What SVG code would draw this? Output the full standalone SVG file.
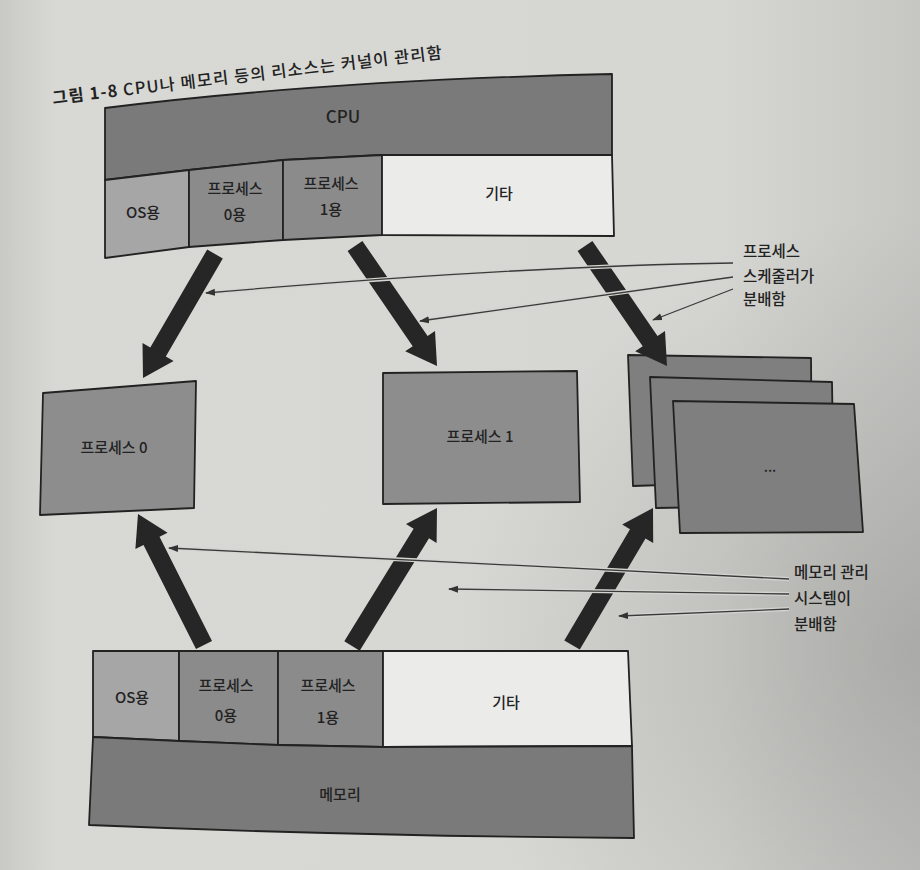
<svg xmlns="http://www.w3.org/2000/svg" width="920" height="870" viewBox="0 0 920 870">
<defs>
<linearGradient id="pageH" x1="0" y1="0" x2="1" y2="0">
<stop offset="0" stop-color="#c9c9c5"/>
<stop offset="0.06" stop-color="#d8d8d4"/>
<stop offset="0.78" stop-color="#d6d6d2"/>
<stop offset="1" stop-color="#c6c6c3"/>
</linearGradient>
<radialGradient id="shadow" cx="1" cy="0.75" r="0.5">
<stop offset="0" stop-color="#8e8e8c" stop-opacity="0.5"/>
<stop offset="1" stop-color="#8e8e8c" stop-opacity="0"/>
</radialGradient>
<marker id="tip" markerUnits="userSpaceOnUse" markerWidth="10" markerHeight="8" viewBox="0 0 10 8" refX="9" refY="4" orient="auto">
<path d="M0,0.5 L10,4 L0,7.5 z" fill="#333"/>
</marker>
<style>
.t{font-family:"Noto Sans CJK KR","Noto Sans",sans-serif;fill:#222;text-anchor:middle;font-weight:500}
.box{stroke:#222;stroke-width:1.8;stroke-linejoin:round}
.band{fill:#7a7a7a}
.os{fill:#a6a6a6}
.pc{fill:#8b8b8b}
.etc{fill:#ebebea}
.proc{fill:#8d8d8d}
.stk{fill:#7f7f7f}
.big{fill:#262626}
.halo{fill:none;stroke:#d4d4d0;stroke-width:4}
.thin{fill:none;stroke:#3a3a3a;stroke-width:1.3;marker-end:url(#tip)}
</style>
</defs>

<rect width="920" height="870" fill="url(#pageH)"/>
<rect width="920" height="870" fill="url(#shadow)"/>

<text class="t" x="53" y="104" transform="rotate(-6.7 53 104)" style="text-anchor:start;font-size:16.5px" textLength="392" lengthAdjust="spacing"><tspan font-weight="bold">그림 1-8</tspan>  CPU나 메모리 등의 리소스는 커널이 관리함</text>

<g id="cpu">
<path class="box band" d="M105,108 Q330,80 612,74 L612,155 L382,155 L283,160 L189,170 L105,180 Z"/>
<path class="box os" d="M105,180 L189,170 L189,247 L105,258 Z"/>
<path class="box pc" d="M189,170 L283,160 L283,240 L189,247 Z"/>
<path class="box pc" d="M283,160 L382,155 L382,235 L283,240 Z"/>
<path class="box etc" d="M382,155 L612,155 L614,236 L382,235 Z"/>
<text class="t" x="343" y="123" font-size="17">CPU</text>
<text class="t" x="143" y="218" font-size="15">OS용</text>
<text class="t" x="235" y="194" font-size="15">프로세스</text>
<text class="t" x="235" y="220" font-size="15">0용</text>
<text class="t" x="331" y="189" font-size="15">프로세스</text>
<text class="t" x="331" y="215" font-size="15">1용</text>
<text class="t" x="499" y="199" font-size="15">기타</text>
</g>

<g id="process0">
<path class="box proc" d="M43,393 L196,381 L194,508 L40,515 Z"/>
<text class="t" x="114" y="453" font-size="15">프로세스 0</text>
</g>

<g id="process1">
<path class="box proc" d="M383,373 L577,371 L580,502 L383,504 Z"/>
<text class="t" x="480" y="442" font-size="15">프로세스 1</text>
</g>

<g id="processes-more">
<path class="box stk" d="M628,355 L811,358 L812,480 L633,486 Z"/>
<path class="box stk" d="M650,377 L832,382 L834,505 L656,508 Z"/>
<path class="box stk" d="M673,401 L854,404 L863,532 L680,533 Z"/>
<text class="t" x="770" y="472" font-size="14">...</text>
</g>

<g id="memory">
<path class="box os" d="M93,651 L179,651 L179,741 L93,737 Z"/>
<path class="box pc" d="M179,651 L278,651 L278,745 L179,741 Z"/>
<path class="box pc" d="M278,651 L383,651 L383,747 L278,745 Z"/>
<path class="box etc" d="M383,651 L628,651 L632,746 L383,747 Z"/>
<path class="box band" d="M93,737 L179,741 L278,745 L383,747 L632,746 L634,838 Q350,836 89,825 Z"/>
<text class="t" x="132" y="703" font-size="15">OS용</text>
<text class="t" x="226" y="691" font-size="15">프로세스</text>
<text class="t" x="226" y="721" font-size="15">0용</text>
<text class="t" x="328" y="691" font-size="15">프로세스</text>
<text class="t" x="328" y="723" font-size="15">1용</text>
<text class="t" x="506" y="708" font-size="15">기타</text>
<text class="t" x="340" y="800" font-size="15">메모리</text>
</g>

<g id="connectors">
<polygon class="big" points="222.8,258.5 165.8,356.6 173.6,361.1 143,378 142.5,343.0 150.3,347.5 207.2,249.5"/>
<polygon class="big" points="362.4,240.9 427.6,336.1 435.0,331.1 437,366 405.2,351.3 412.7,346.3 347.6,251.1"/>
<polygon class="big" points="592.4,240.9 657.5,336.1 665.0,331.1 667,366 635.2,351.3 642.7,346.3 577.6,251.1"/>
<polygon class="big" points="212.0,641.0 159.5,536.7 167.6,532.7 138,514 135.4,548.9 143.5,544.9 196.0,649.1"/>
<polygon class="big" points="359.7,650.7 429.0,538.2 436.6,542.9 437,508 406.0,524.1 413.6,528.8 344.3,641.3"/>
<polygon class="big" points="579.8,649.6 645.5,538.4 653.2,543.0 653,508 622.2,524.6 630.0,529.2 564.3,640.4"/>

<path class="halo" d="M733,263 Q520,266 210,293"/>
<path class="halo" d="M733,277 L424,320"/>
<path class="halo" d="M733,289 L657,318"/>
<path class="halo" d="M789,579 L173,548"/>
<path class="halo" d="M789,594 L453,589"/>
<path class="halo" d="M789,609 L623,616"/>

<path class="thin" d="M733,263 Q520,266 206,293"/>
<path class="thin" d="M733,277 L420,321"/>
<path class="thin" d="M733,289 L653,320"/>
<path class="thin" d="M789,579 L169,548"/>
<path class="thin" d="M789,594 L449,589"/>
<path class="thin" d="M789,609 L619,616"/>
</g>

<g id="label-scheduler">
<text class="t" x="743" y="257" font-size="15.5" style="text-anchor:start">프로세스</text>
<text class="t" x="743" y="282" font-size="15.5" style="text-anchor:start">스케줄러가</text>
<text class="t" x="743" y="305" font-size="15.5" style="text-anchor:start">분배함</text>
</g>

<g id="label-memory">
<text class="t" x="794" y="578" font-size="15.5" style="text-anchor:start">메모리 관리</text>
<text class="t" x="794" y="604" font-size="15.5" style="text-anchor:start">시스템이</text>
<text class="t" x="794" y="630" font-size="15.5" style="text-anchor:start">분배함</text>
</g>
</svg>
